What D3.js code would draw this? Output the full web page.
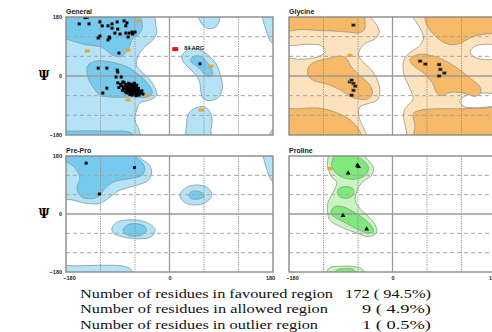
<!DOCTYPE html>
<html lang="en">
<head>
<meta charset="UTF-8">
<title>Ramachandran plot</title>
<script src="https://d3js.org/d3.v7.min.js"></script>
<style>
  body { margin: 0; background: #fff; }
  svg text { font-family: "Liberation Sans", Arial, sans-serif; }
  .stats text { font-family: "Liberation Serif", "Times New Roman", serif; }
</style>
</head>
<body>
<svg id="chart" width="492" height="332"></svg>
<script>
// axis ticks and grid (degrees)
const phiTicks = [-180, 0, 180];
const psiTicks = [-180, 0, 180];
const gridVals = [-120, -60, 60, 120];

// ---- General ----
const generalAllowed = [
  [[-195,195],[-30,195],[-24,156],[-22,134],[-29,110],[-41,92],[-51,73],[-57,49],[-57,30],[-46,9],[-30,-21],[-22,-58],[-34,-73],[-51,-82],[-57,-104],[-60,-134],[-53,-165],[-51,-195],[-195,-195]],
  [[22,62],[30,78],[42,84],[55,78],[68,62],[80,40],[88,5],[92,-35],[85,-65],[70,-75],[58,-68],[54,-40],[52,-15],[42,10],[28,35],[22,50]],
  [[31,-195],[30,-145],[33,-115],[45,-98],[60,-94],[70,-108],[74,-135],[72,-165],[72,-195]],
  [[50,195],[52,172],[58,155],[67,145],[78,147],[85,160],[86,195]],
  [[160,195],[162,175],[166,150],[171,125],[177,103],[195,100],[195,195]],
  [[175,-195],[176,-170],[182,-160],[195,-158],[195,-195]]
];
const generalFavoured = [
  [[-195,195],[-50,195],[-50,180],[-47,150],[-53,128],[-65,112],[-72,80],[-86,59],[-99,64],[-117,87],[-150,97],[-178,112],[-195,118]],
  [[-142,33],[-126,46],[-104,43],[-74,28],[-57,9],[-39,-21],[-30,-52],[-39,-64],[-64,-64],[-104,-64],[-121,-58],[-133,-34],[-142,-3]],
  [[-185,-195],[-184,-172],[-165,-168],[-110,-168],[-72,-170],[-64,-178],[-62,-195]],
  [[37,52],[47,62],[58,55],[66,40],[74,18],[74,2],[65,-1],[55,18],[44,34],[38,42]]
];
const generalPoints = [
  // beta region
  [-147,178],[-143,179],[-157,159],[-140,159],[-121,165],[-117,153],[-107,153],[-100,159],
  [-91,165],[-100,146],[-90,143],[-79,168],[-74,162],[-76,153],[-86,128],[-76,131],
  [-95,131],[-70,131],[-65,134],[-60,134],[-64,128],[-72,119],[-105,119],[-107,110],
  [-121,122],[-124,116],[-104,116],[-88,70],
  // alpha region
  [-124,24],[-109,24],[-91,18],[-90,12],[-84,-3],[-93,-3],[-81,-18],[-90,-21],[-109,-37],[-116,-52],
  [-62,-41],[-65,-40],[-60,-45],[-68,-38],[-63,-35],[-70,-42],[-58,-40],[-66,-47],[-72,-35],[-61,-50],
  [-55,-43],[-67,-30],[-75,-40],[-64,-44],[-59,-36],[-69,-48],[-73,-45],[-57,-48],[-52,-47],[-78,-33],
  [-66,-25],[-62,-28],[-70,-28],[-80,-38],[-56,-55],[-63,-55],[-50,-52],[-74,-52],[-60,-32],[-71,-22],
  [-83,-30],[-76,-26],[-54,-38],[-67,-52],[-58,-60],[-48,-45],[-65,-58],[-82,-44],[-77,-48],[-69,-56],
  [-61,-22],[-57,-28],[-73,-31],[-64,-36],[-68,-43],[-62,-47],[-59,-52],[-71,-38],[-66,-33],[-53,-58],
  [-46,-55],[-79,-20],[-85,-25],[-88,-35],
  // left-handed region
  [53,37]
];
const generalAllowedPts = [[-56,168],[-143,76],[-72,79],[72,30],[55,-104],[-72,-73],[-39,-61]];
const generalOutliers = [[10,82]];
const generalOutlierLabels = ["84 ARG"];

// ---- Glycine ----
const glycineAllowed = [
  [[-195,195],[-40,195],[-39,180],[-29,160],[-23,134],[-30,114],[-48,99],[-56,83],[-59,63],[-51,43],[-36,17],[-25,-18],[-22,-49],[-27,-74],[-42,-84],[-57,-95],[-59,-120],[-54,-145],[-45,-181],[-45,-195],[-195,-195],[-195,48],[-158,51],[-132,57],[-117,75],[-123,92],[-146,97],[-195,99]],
  [[40,195],[36,180],[45,155],[54,119],[48,94],[36,78],[25,63],[19,43],[19,12],[25,-18],[33,-49],[36,-69],[30,-84],[22,-100],[19,-120],[22,-150],[25,-181],[25,-195],[195,-195],[195,-99],[146,-97],[123,-92],[117,-75],[132,-57],[158,-52],[195,-48],[195,48],[160,50],[140,60],[135,75],[145,92],[165,97],[195,99],[195,195]]
];
const glycineFavoured = [
  [[-195,195],[-52,195],[-48,165],[-49,142],[-58,132],[-77,134],[-100,137],[-129,139],[-158,142],[-195,140]],
  [[-146,27],[-135,43],[-112,53],[-91,61],[-80,53],[-71,27],[-54,-3],[-39,-28],[-35,-54],[-42,-69],[-56,-71],[-71,-64],[-85,-49],[-100,-34],[-117,-23],[-138,-13],[-147,2]],
  [[-195,-105],[-164,-100],[-129,-98],[-100,-110],[-77,-130],[-62,-155],[-54,-181],[-54,-195],[-195,-195]],
  [[56,195],[56,180],[59,160],[68,134],[83,109],[100,96],[117,99],[135,116],[152,126],[173,129],[195,130],[195,195]],
  [[30,50],[45,66],[68,62],[90,48],[114,22],[136,-8],[152,-33],[153,-52],[144,-62],[124,-52],[100,-50],[84,-60],[77,-52],[69,-20],[55,8],[36,32]],
  [[40,-195],[39,-150],[36,-115],[50,-104],[80,-100],[120,-100],[160,-98],[195,-98],[195,-195]]
];
const glycinePoints = [[-68,155],[-74,-18],[-71,-13],[-68,-23],[-65,-31],[-68,-44],[-71,-59],
  [48,45],[57,36],[81,35],[83,20],[90,9],[81,0]];
const glycineAllowedPts = [[-74,63]];

// ---- Pre-Pro ----
const preProAllowed = [
  [[-195,195],[-60,195],[-50,172],[-37,156],[-31,130],[-37,105],[-57,89],[-86,74],[-103,53],[-121,33],[-144,33],[-167,43],[-195,55]],
  [[18,58],[30,83],[47,90],[65,83],[74,60],[63,36],[45,28],[27,35]],
  [[-100,-44],[-92,-26],[-69,-18],[-40,-26],[-25,-49],[-31,-70],[-57,-77],[-83,-70],[-98,-59]],
  [[-195,-195],[-195,-163],[-160,-161],[-110,-159],[-80,-162],[-67,-172],[-63,-195]],
  [[162,195],[164,170],[169,140],[173,118],[179,102],[195,100],[195,195]]
];
const preProFavoured = [
  [[-195,195],[-63,195],[-60,180],[-48,161],[-43,141],[-48,120],[-69,110],[-98,99],[-115,74],[-121,58],[-132,48],[-153,53],[-161,79],[-156,110],[-161,135],[-173,156],[-195,170]],
  [[33,58],[38,69],[48,71],[58,64],[60,54],[50,46],[38,48]],
  [[-81,-48],[-72,-33],[-58,-30],[-43,-38],[-40,-52],[-50,-66],[-66,-69],[-78,-60]]
];
const preProPoints = [[-145,158],[-61,144],[-122,62]];

// ---- Proline ----
const prolineAllowed = [
  [[-112,195],[-112,179],[-113,151],[-106,115],[-97,99],[-100,79],[-106,59],[-112,38],[-113,7],[-109,-19],[-91,-39],[-62,-59],[-42,-70],[-28,-59],[-30,-34],[-42,-8],[-57,18],[-65,43],[-62,69],[-57,89],[-48,105],[-36,120],[-33,141],[-39,161],[-48,179],[-48,195]],
  [[-114,-195],[-110,-168],[-90,-162],[-65,-164],[-52,-172],[-48,-195]]
];
const prolineFavoured = [
  [[-100,195],[-103,176],[-106,151],[-97,125],[-80,110],[-59,110],[-45,125],[-42,146],[-51,166],[-62,180],[-62,195]],
  [[-96,67],[-92,80],[-81,85],[-70,80],[-67,67],[-71,54],[-81,49],[-92,54]],
  [[-106,12],[-100,23],[-88,23],[-68,7],[-51,-13],[-36,-39],[-33,-55],[-42,-59],[-59,-49],[-80,-29],[-97,-13],[-106,-3]],
  [[-100,-195],[-98,-175],[-85,-170],[-68,-172],[-62,-195]]
];
const prolinePoints = [[-77,127],[-61,151],[-59,147],[-86,-5],[-45,-47]];
const prolineAllowedPts = [[-109,141]];

// ---- summary ----
const statsLabels = ["Number of residues in favoured region", "Number of residues in allowed region", "Number of residues in outlier region"];
const statsCounts = [172, 9, 1];
const statsPercents = ["94.5", "4.9", "0.5"];

// layout
const panelW = 207;
const panels = [
  { key: "general", title: "General", x: 66, y: 17, h: 118, light: "#b4e3f7", dark: "#76caee", edge: "#7e98a6",
    allowed: generalAllowed, favoured: generalFavoured, pts: generalPoints, mark: "square",
    orange: generalAllowedPts, yAxis: true, xAxis: false },
  { key: "glycine", title: "Glycine", x: 289, y: 17, h: 118, light: "#fce3bd", dark: "#f6b967", edge: "#a09080",
    allowed: glycineAllowed, favoured: glycineFavoured, pts: glycinePoints, mark: "gly",
    orange: glycineAllowedPts, yAxis: false, xAxis: false },
  { key: "prepro", title: "Pre-Pro", x: 66, y: 156, h: 116, light: "#b4e3f7", dark: "#76caee", edge: "#7e98a6",
    allowed: preProAllowed, favoured: preProFavoured, pts: preProPoints, mark: "square",
    orange: [], yAxis: true, xAxis: true },
  { key: "proline", title: "Proline", x: 289, y: 156, h: 116, light: "#c8f4c0", dark: "#7eea7c", edge: "#889a88",
    allowed: prolineAllowed, favoured: prolineFavoured, pts: prolinePoints, mark: "triangle",
    orange: prolineAllowedPts, yAxis: false, xAxis: true }
];

const svg = d3.select("#chart");
const defs = svg.append("defs");

panels.forEach(p => {
  const x = d3.scaleLinear().domain([-180, 180]).range([p.x, p.x + panelW]);
  const y = d3.scaleLinear().domain([180, -180]).range([p.y, p.y + p.h]);

  defs.append("clipPath").attr("id", "clip-" + p.key)
    .append("rect").attr("x", p.x).attr("y", p.y).attr("width", panelW).attr("height", p.h);

  const g = svg.append("g").attr("clip-path", `url(#clip-${p.key})`);

  const area = d3.line()
    .x(d => x(d[0])).y(d => y(d[1]))
    .curve(d3.curveCatmullRomClosed.alpha(0.5));

  g.selectAll("path.allowed").data(p.allowed).join("path")
    .attr("class", "allowed").attr("d", area)
    .attr("fill", p.light).attr("stroke", p.edge).attr("stroke-width", 0.8);
  g.selectAll("path.fav").data(p.favoured).join("path")
    .attr("class", "fav").attr("d", area)
    .attr("fill", p.dark).attr("stroke", p.edge).attr("stroke-width", 0.8);

  // grid
  g.selectAll("line.vgrid").data(gridVals).join("line")
    .attr("x1", d => x(d)).attr("x2", d => x(d))
    .attr("y1", y(180)).attr("y2", y(-180))
    .attr("stroke", "#8f8f8f").attr("stroke-width", 1).attr("stroke-dasharray", "1.2,1.2");
  g.selectAll("line.hgrid").data(gridVals).join("line")
    .attr("y1", d => y(d)).attr("y2", d => y(d))
    .attr("x1", x(-180)).attr("x2", x(180))
    .attr("stroke", "#a5a5a5").attr("stroke-width", 1).attr("stroke-dasharray", "4,3");
  g.append("line").attr("x1", x(0)).attr("x2", x(0)).attr("y1", y(180)).attr("y2", y(-180))
    .attr("stroke", "#9a9a9a").attr("stroke-width", 1.3);
  g.append("line").attr("y1", y(0)).attr("y2", y(0)).attr("x1", x(-180)).attr("x2", x(180))
    .attr("stroke", "#9a9a9a").attr("stroke-width", 1.3);

  // points
  if (p.mark === "square") {
    g.selectAll("rect.pt").data(p.pts).join("rect")
      .attr("x", d => x(d[0]) - 1.5).attr("y", d => y(d[1]) - 1.5)
      .attr("width", 3).attr("height", 3).attr("fill", "#000");
  } else if (p.mark === "gly") {
    g.selectAll("rect.pt").data(p.pts).join("rect")
      .attr("x", d => x(d[0]) - 2).attr("y", d => y(d[1]) - 1.5)
      .attr("width", 4).attr("height", 3).attr("fill", "#1a1a1a")
      .attr("stroke", "#b08a60").attr("stroke-width", 0.5);
  } else {
    g.selectAll("path.pt").data(p.pts).join("path")
      .attr("transform", d => `translate(${x(d[0])},${y(d[1])})`)
      .attr("d", d3.symbol(d3.symbolTriangle, 10)).attr("fill", "#000");
  }
  g.selectAll("rect.orange").data(p.orange).join("rect")
    .attr("x", d => x(d[0]) - 2.5).attr("y", d => y(d[1]) - 1.5)
    .attr("width", 5).attr("height", 3).attr("fill", "#f2a02c");

  if (p.key === "general") {
    g.selectAll("rect.outlier").data(generalOutliers).join("rect")
      .attr("x", d => x(d[0]) - 3).attr("y", d => y(d[1]) - 2)
      .attr("width", 6).attr("height", 4).attr("fill", "#e8141a");
    g.selectAll("text.olabel").data(generalOutliers).join("text")
      .attr("x", d => x(d[0]) + 9).attr("y", d => y(d[1]) + 1)
      .attr("font-size", 5.5).attr("font-weight", "bold").attr("fill", "#222")
      .text((d, i) => generalOutlierLabels[i]);
  }

  // border
  svg.append("rect").attr("x", p.x).attr("y", p.y).attr("width", panelW).attr("height", p.h)
    .attr("fill", "none").attr("stroke", "#8a8a8a").attr("stroke-width", 1.4);

  // title
  svg.append("text").attr("x", p.x).attr("y", p.y - 3.5)
    .attr("font-size", 7).attr("font-weight", "bold").attr("fill", "#222").text(p.title);

  if (p.yAxis) {
    const ax = svg.append("g").attr("transform", `translate(${p.x},0)`)
      .call(d3.axisLeft(y).tickValues(psiTicks).tickSize(0).tickPadding(4).tickFormat(d3.format("d")));
    ax.select(".domain").remove();
    ax.selectAll("text").attr("font-size", 5.5).attr("font-weight", "bold").attr("fill", "#222")
      .style("font-family", "Liberation Sans, Arial, sans-serif");
    svg.append("text").attr("x", 44).attr("y", y(0) + 4).attr("text-anchor", "middle")
      .attr("font-size", 12).attr("font-weight", "bold")
      .style("font-family", "DejaVu Serif, serif").text("\u03A8");
  }
  if (p.xAxis) {
    const ax = svg.append("g").attr("transform", `translate(0,${p.y + p.h})`)
      .call(d3.axisBottom(x).tickValues(phiTicks).tickSize(0).tickPadding(4).tickFormat(d3.format("d")));
    ax.select(".domain").remove();
    ax.selectAll("text").attr("font-size", 5.5).attr("font-weight", "bold").attr("fill", "#222")
      .attr("dx", d => d < 0 ? 3 : d > 0 ? -3 : 0)
      .style("font-family", "Liberation Sans, Arial, sans-serif");
  }
});

// summary text
const stats = svg.append("g").attr("class", "stats");
const labelWidths = [253, 248, 238];
const valueWidths = [86, 69, 69];
const baselines = [297.5, 313, 328.5];
stats.selectAll("text.lab").data(statsLabels).join("text")
  .attr("class", "lab")
  .attr("x", 80).attr("y", (d, i) => baselines[i])
  .attr("font-size", 12.5).attr("fill", "#111")
  .attr("textLength", (d, i) => labelWidths[i]).attr("lengthAdjust", "spacingAndGlyphs")
  .text(d => d);
stats.selectAll("text.val").data(statsCounts).join("text")
  .attr("class", "val")
  .attr("x", 431).attr("y", (d, i) => baselines[i]).attr("text-anchor", "end")
  .attr("font-size", 12.5).attr("fill", "#111")
  .attr("textLength", (d, i) => valueWidths[i]).attr("lengthAdjust", "spacingAndGlyphs")
  .text((d, i) => `${d} ( ${statsPercents[i]}%)`);
</script>
</body>
</html>
